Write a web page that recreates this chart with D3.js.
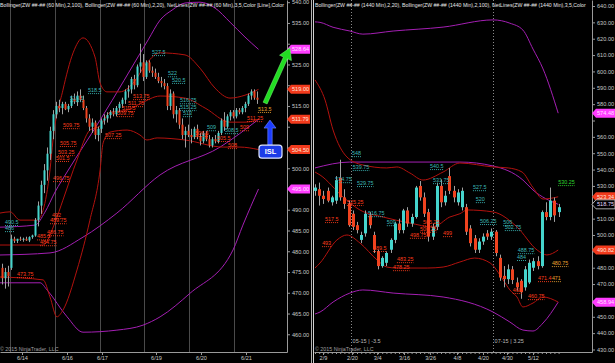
<!DOCTYPE html>
<html><head><meta charset="utf-8">
<script src="https://cdn.jsdelivr.net/npm/d3@7"></script>
<style>
html,body{margin:0;padding:0;background:#000;}
svg{display:block;font-family:"Liberation Sans",Arial,sans-serif;}
</style></head><body>
<svg id="c" width="615" height="363"></svg>
<script>
// ================= LEFT PANEL (60 Min) =================
const leftOpen  = [476,473.5,475,476,483,482.5,483,482.8,483,482.6,483.4,483.8,487.5,491,496,499.5,503.5,509,513,515,514.5,515.5,514.2,515,516.8,516,517.5,516.5,514.5,512,510,511,508,509.5,511.5,512,512.8,513.5,513,514.5,515.5,516.5,518.5,519,521.5,520,524.5,525.5,522,525.5,523.5,523,522,521,520.5,519.8,515,518,513,514,510.5,508,509,508,507.5,509.5,507.5,506.5,508.5,507,505.5,507,506.5,508.5,511.5,510,512.5,513.5,512.5,514,513.5,514.5,515.5,517.5,518.5,517];
const leftHigh  = [477,476,476.5,484,483.5,483,483.5,483.3,483.5,483.6,484,488,492,497,501,505,510,514,516,516.5,516,516,515.5,517.5,518,518.5,519,517.5,515,513,512,511.5,510,512,513,513.5,514,514.5,515,516,517,519,520,522,522.5,525,530,527.5,526,526,524.5,524,523,522,521.5,520.5,519,518.5,515,514.5,512,510,510.5,509.5,510,510.5,508.5,509,509,508,507.5,508,509,512,513.5,513,514,514,514.5,514.5,515,516,518,519,519,518.5];
const leftLow   = [472,471,471.5,475.5,482,482,482.5,482.3,482.5,482.2,483,483.5,486,489,494,497,502,507,512,513.5,513,514,513.5,514.5,515.5,515,516,514,511,509,508.5,507,506.5,508.5,510.5,511,512,512.5,512.5,513.5,514.5,515.5,517,518,519,519.5,523,521,521.5,523,522,521.5,520.5,519.5,519,514,514,512,511,509.5,507,505,507.5,506,507,507,505.5,506,506.5,505,505,506,506,508,509,509.5,511.5,512,512,513,513,513.5,515,516.5,516.5,515.5];
const leftClose = [473.5,475,474,483,482.5,483,482.8,483,482.6,483.4,483.8,487.5,491,496,499.5,503.5,509,513,515,514.5,515.5,514.2,515,516.8,516,517.5,516.5,514.5,512,510,511,508,509.5,511.5,512,512.8,513.5,513,514.5,515.5,516.5,518.5,519,521.5,520,524.5,525.5,522,525.5,523.5,523,522,521,520.5,519.8,515,518,513,514,510.5,508,509,508,507.5,509.5,507.5,506.5,508.5,507,505.5,507,506.5,508.5,511.5,510,512.5,513.5,512.5,514,513.5,514.5,515.5,517.5,518.5,517,516.5];

// Bollinger (2,100) - purple
const leftBB100UpIdx  = [-0.67,11,14.3,17.7,21.7,32.7,48.7,52.7,56.7,61,66,71,76,81,85.5];
const leftBB100Up     = [485.8,486.3,489.4,494.3,499.1,511.6,530.9,535.7,538.1,539.8,540,538.6,535.2,531.6,528.64];
const leftBB100MidIdx = [-0.67,16,27,38.3,52.7,72.7,85.5];
const leftBB100Mid    = [479.1,479.6,483.4,489.2,498.4,505.1,511.79];
const leftBB100LoIdx  = [-0.67,12.7,15,21.7,27,38.3,47,52.7,62.7,77,80.3,85.5];
const leftBB100Lo     = [472.4,472.4,470.7,464.2,460.5,461.0,462.2,464.2,469.9,480.3,486.3,495.0];
// Bollinger (2,20) - red
const leftBB20UpIdx  = [-0.67,2.7,6,11.7,13.7,16,17,20.3,23.7,27,31,32.7,35,39.3,43.7,48.3,52.7,61,66,71,76,81,85.5];
const leftBB20Up     = [489.2,489.5,487.5,487.5,489.9,499.6,506.8,518.8,527.8,531.4,526.8,520.5,518.4,518.4,520.5,525.4,527.8,527.3,524.1,519.3,516.9,517.6,519.0];
const leftBB20MidIdx = [-0.67,13.7,17.7,20.3,25,29.3,32.7,36,41.7,46,52.7,61,67.7,76,81,85.5];
const leftBB20Mid    = [481.5,481.5,487.0,492.3,502.0,509.2,510.2,513.5,514.0,515.5,517.4,516.9,514.5,511.1,511.1,511.79];
const leftBB20LoIdx  = [-0.67,13.7,16,18.3,20.3,25,29.3,32.7,33.7,36,41.7,46,48.3,51.7,61,73.7,79.3,85.5];
const leftBB20Lo     = [473.8,473.1,469.0,464.2,465.8,475.5,487.5,499.6,506.1,508.7,509.2,508.0,506.8,507.3,506.8,505.1,505.1,504.5];

// NetLines labels [text, bar, price, kind]
const leftLabels = [
 ["516.5",22.7,516.9,"hi"],["518.5",28.7,518.85,"hi"],["527.5",50,528.0,"hi"],["522",55.3,522.9,"hi"],
 ["520.5",56.7,521.3,"hi"],["516.75",59.3,516.4,"hi"],["515.25",59.3,514.75,"hi"],["513",60.3,513.3,"hi"],
 ["509",68.3,509.9,"hi"],["508.5",74.3,509.2,"hi"],["490.5",1,487.05,"hi"],["486",1,485.6,"hi"],
 ["509.75",20.3,510.4,"lo"],["505.75",19.3,506.1,"lo"],["503.25",18.7,503.9,"lo"],["501.5",18,502.5,"lo"],
 ["496.75",17,497.65,"lo"],["507.25",34.3,508.0,"lo"],["513.75",43.7,517.4,"lo"],["511.75",42,515.7,"lo"],
 ["510.5",40,514.5,"lo"],["509.75",38.3,513.3,"lo"],["506.5",64.3,508.5,"lo"],["505.5",71.7,507.3,"lo"],
 ["509",79.3,509.9,"lo"],["508",75.3,505.6,"lo"],["511.25",81.7,512.1,"lo"],["492",16.7,488.7,"lo"],
 ["489.75",16,487.5,"lo"],["486.75",15,484.6,"lo"],["485.5",11.7,483.6,"lo"],["484.75",12.7,482.2,"lo"],
 ["473.75",5,474.5,"lo"],["513.5",85.3,514.3,"cur"]
];
const leftDaySep   = [2.67,17.67,32.67,47.33,62.33,77.33];
const leftDateIdx  = [6.67,21.67,33.33,51.33,66.33,81.33];
const leftDateLbl  = ["6/14","6/16","6/17","6/19","6/20","6/21"];
const leftPriceTicks = [460,465,470,475,480,485,490,495,500,505,510,515,520,525,530,535,540];
const leftMarkVals  = [528.64,519.00,511.79,504.50,495.00];
const leftMarkKinds = ["pink","red","red","red","pink"];

// ================= RIGHT PANEL (1440 Min) =================
const rightOpen  = [527,528,524,527,520,521,535,523,519,513,506,497,501,512,500,490,481,483,491,497,507,503,515,507,511,530,523,514,499,505,530,520,536,527,520,517,517,504,498,491,496,501,499,502,486,475,473,479,471,472,468,471,480,484,481,514,511,521,514];
const rightHigh  = [531,532,527,529,524,536,546,528,521,515,508,502,515,514,502,491,487,490,498,508,510,516,517,513,530,533,526,516,507,532,534,527,541,530,528,529,519,506,500,498,501,503,504,503,488,481,482,481,474,473,481,485,486,487,515,520,529,523,519];
const rightLow   = [524,518,519,520,518,519,521,516,505,503,501,495,499,504,489,479,480,481,489,495,501,501,505,505,510,521,511,496,497,503,517,518,525,520,518,515,500,493,489,489,494,497,497,487,472,468,470,470,466,461,466,470,478,479,480,509,509,508,511];
const rightClose = [529,524,522,521,523,533.5,523,519,506,505,503,500,513,506,491,481,486,489,497,507,503,515,507,511,529,523,513,499,505,530,520,524,527,523,526,527,502,495,491,496,499,499,502,489,474,473,479,472.5,468,465,479,483,484,481,514,511,521,512,517];

const rightBB20UpIdx  = [0,2.4,4.3,7.6,11.4,17.1,19.5,22.6,25.7,30.5,34.5,42.4,46,49.3,51.9,54.3,57.9];
const rightBB20Up     = [594.8,582.5,564.2,547.7,542.8,541.0,541.6,537.9,533.6,538.5,544.0,541.6,541.0,538.5,529.0,522.0,523.34];
const rightBB20MidIdx = [0,1.2,6.7,10.7,16.2,22.6,28.1,32.1,34.5,36.2,42.4,48.1,52.9,55.2,57.9];
const rightBB20Mid    = [538.5,536.7,523.2,515.3,511.0,507.3,504.9,511.0,513.0,515.3,514.1,504.9,490.8,487.8,490.82];
const rightBB20LoIdx  = [0,1.2,5.2,7.6,10.7,14.8,17.1,19.5,26.7,30.5,34.5,38,41.7,44.8,46.4,48.1,49.5,51.9,54.3,57.9];
const rightBB20Lo     = [479.8,482.9,496.9,500.0,495.1,484.7,480.4,479.8,479.8,480.4,483.5,485.9,482.9,472.5,466.4,462.1,456.0,458.4,462.1,459.0];
const rightBB100UpIdx  = [0,1.2,4.3,8.3,11.4,18.6,30.5,42.4,46.4,49.5,51.9,54.3,57.9];
const rightBB100Up     = [630.3,630.0,627.0,624.7,622.8,624.7,627.1,631.5,629.5,625.3,613.7,601.5,574.48];
const rightBB100MidIdx = [0,8.3,20,34.5,42.4,49.5,51.9,57.9];
const rightBB100Mid    = [541.0,544.6,544.6,544.6,542.2,533.6,527.5,518.75];
const rightBB100LoIdx  = [0,1.2,4.3,8.3,11.4,18.6,30.5,42.4,46.4,49.5,51.9,54.3,57.9];
const rightBB100Lo     = [451.7,452.9,459.0,464.5,466.4,464.5,462.1,452.9,446.8,441.9,441.3,446.2,458.94];

const rightLabels = [
 ["548",8.8,550.1,"hi"],["539.75",9,541.6,"hi"],["529.75",10,531.8,"hi"],["534.75",4.8,534.2,"hi"],
 ["540.5",27.4,542.2,"hi"],["531.75",28.1,533.6,"hi"],["527.5",37.6,529.3,"hi"],["520",38.3,522.0,"hi"],
 ["516.75",12.6,513.4,"hi"],["509",17.1,507.9,"hi"],["506.25",39.3,508.6,"hi"],["506",44.8,507.9,"hi"],
 ["502.75",45.2,504.9,"hi"],["488.75",48.3,490.8,"hi"],["484",48.1,486.6,"hi"],
 ["525.25",7.6,520.2,"lo"],["517.5",2.4,509.8,"lo"],["493",1.7,495.1,"lo"],["489.5",13.8,492.1,"lo"],
 ["483.25",19.5,485.3,"lo"],["478.25",18.6,480.4,"lo"],["505.25",25.7,507.7,"lo"],["500.25",25,503.9,"lo"],
 ["498.75",22.6,500.2,"lo"],["499",30.5,501.2,"lo"],["468",47.1,466.4,"lo"],["460.75",50.7,462.7,"lo"],
 ["471.4",53.1,473.7,"lo"],["480.75",56.4,482.9,"cur"],["471",56.4,473.7,"cur"],["530.25",57.9,532.4,"up"]
];
const rightDateIdx = [1.9,8.8,14.8,21.2,27.4,33.8,40,45.7,51.9];
const rightDateLbl = ["2/9","2/20","3/4","3/16","3/26","4/8","4/20","4/30","5/12"];
const rollIdx  = [8.6,42.4];
const rollText = ["05-15 | -3.5","07-15 | 3.25"];
const rightPriceTicks = [430,440,450,460,470,480,490,500,510,520,530,540,550,560,570,580,590,600,610,620,630,640];
const rightMarkVals  = [574.48,523.34,518.75,490.82,458.94];
const rightMarkKinds = ["pink","red","dark","red","pink"];

// annotations (bar index, price) on the left panel
const greenArrowFrom = [87.7,515.7], greenArrowTo = [96,529.0];
const blueArrowFrom  = [89.33,505.6], blueArrowTo  = [89.33,511.6];
const islBox = [89.5,504.0];

const headerLeft  = "Bollinger(ZW ##-## (60 Min),2,100), Bollinger(ZW ##-## (60 Min),2,20), NetLines(ZW ##-## (60 Min),3,5,Color [Line],Color";
const headerRight = "Bollinger(ZW ##-## (1440 Min),2,20), Bollinger(ZW ##-## (1440 Min),2,100), NetLines(ZW ##-## (1440 Min),3,5,Color";

// ================= DRAW =================
const svg = d3.select('#c');
svg.append('rect').attr('width',615).attr('height',363).attr('fill','#000');

const xL = d3.scaleLinear().domain([-0.667,95]).range([0,287]);
const yL = d3.scaleLinear().domain([455.73,540.53]).range([352,0]);
const xR = d3.scaleLinear().domain([-0.238,65.95]).range([314,592]);
const yR = d3.scaleLinear().domain([428.47,643.67]).range([352,0]);

const defs = svg.append('defs');
defs.append('clipPath').attr('id','clipL').append('rect').attr('x',0).attr('y',0).attr('width',287).attr('height',352);
defs.append('clipPath').attr('id','clipR').append('rect').attr('x',314).attr('y',0).attr('width',278).attr('height',352);

const COL = {up:'#45d4cc', down:'#f0431f', wick:'#a0a0a0', red:'#b3120e', purple:'#a41fb3',
  hi:'#3cb8b8', lo:'#ff3d1c', cur:'#e8a030', upl:'#2ed82e'};

const gL = svg.append('g').attr('clip-path','url(#clipL)');
const gR = svg.append('g').attr('clip-path','url(#clipR)');

gL.selectAll('line.sep').data(leftDaySep).join('line')
  .attr('x1',d=>Math.round(xL(d))+0.5).attr('x2',d=>Math.round(xL(d))+0.5)
  .attr('y1',0).attr('y2',352).attr('stroke','#4a4a4a').attr('stroke-width',1);

gR.selectAll('line.roll').data(rollIdx).join('line')
  .attr('x1',d=>Math.round(xR(d))+0.5).attr('x2',d=>Math.round(xR(d))+0.5)
  .attr('y1',0).attr('y2',352).attr('stroke','#8a8a8a').attr('stroke-dasharray','1,2');

function band(g, idx, vals, x, y, color){
  const pts = idx.map((d,i)=>[d, vals[i]]);
  g.append('path').datum(pts)
    .attr('d', d3.line().x(d=>x(d[0])).y(d=>y(d[1])).curve(d3.curveMonotoneX))
    .attr('fill','none').attr('stroke',color).attr('stroke-width',1);
}
band(gL,leftBB100UpIdx,leftBB100Up,xL,yL,COL.purple);
band(gL,leftBB100MidIdx,leftBB100Mid,xL,yL,COL.purple);
band(gL,leftBB100LoIdx,leftBB100Lo,xL,yL,COL.purple);
band(gL,leftBB20UpIdx,leftBB20Up,xL,yL,COL.red);
band(gL,leftBB20MidIdx,leftBB20Mid,xL,yL,COL.red);
band(gL,leftBB20LoIdx,leftBB20Lo,xL,yL,COL.red);
band(gR,rightBB100UpIdx,rightBB100Up,xR,yR,COL.purple);
band(gR,rightBB100MidIdx,rightBB100Mid,xR,yR,COL.purple);
band(gR,rightBB100LoIdx,rightBB100Lo,xR,yR,COL.purple);
band(gR,rightBB20UpIdx,rightBB20Up,xR,yR,COL.red);
band(gR,rightBB20MidIdx,rightBB20Mid,xR,yR,COL.red);
band(gR,rightBB20LoIdx,rightBB20Lo,xR,yR,COL.red);

function candles(g,O,H,Lo,C,x,y,bw){
  const data = O.map((o,i)=>({i,o,h:H[i],l:Lo[i],c:C[i]}));
  const cg = g.append('g');
  cg.selectAll('line').data(data).join('line')
    .attr('x1',d=>Math.round(x(d.i))+0.5).attr('x2',d=>Math.round(x(d.i))+0.5)
    .attr('y1',d=>y(d.h)).attr('y2',d=>y(d.l)).attr('stroke',COL.wick).attr('stroke-width',1);
  cg.selectAll('rect').data(data).join('rect')
    .attr('x',d=>Math.round(x(d.i))+0.5-bw/2)
    .attr('y',d=>y(Math.max(d.o,d.c)))
    .attr('width',bw)
    .attr('height',d=>Math.max(1,Math.abs(y(d.o)-y(d.c))))
    .attr('fill',d=>d.c>=d.o?COL.up:COL.down);
}
candles(gL,leftOpen,leftHigh,leftLow,leftClose,xL,yL,2);
candles(gR,rightOpen,rightHigh,rightLow,rightClose,xR,yR,3);

function netLabels(g,list,x,y){
  list.forEach(([t,idx,p,k])=>{
    const col = k==='hi'?COL.hi:k==='lo'?COL.lo:k==='cur'?COL.cur:COL.upl;
    const tx = g.append('text').attr('x',x(idx)).attr('y',y(p)).attr('dy','0.35em')
      .attr('font-size',5.4).attr('fill',col).text(t);
    const w = tx.node().getComputedTextLength();
    g.append('line').attr('x1',x(idx)).attr('x2',x(idx)+w)
      .attr('y1',y(p)+3.6).attr('y2',y(p)+3.6)
      .attr('stroke',col).attr('stroke-width',0.9).attr('stroke-dasharray','1,1');
  });
}
netLabels(gL,leftLabels,xL,yL);
netLabels(gR,rightLabels,xR,yR);

gR.selectAll('text.roll').data(rollIdx).join('text')
  .attr('x',d=>xR(d)+1.5).attr('y',343).attr('font-size',5.5).attr('fill','#b8b8b8')
  .text((d,i)=>rollText[i]);

function styleAxis(g){
  g.attr('font-size',5.6).attr('font-family','"Liberation Sans",Arial,sans-serif');
  g.selectAll('path,line').attr('stroke','#9a9a9a');
  g.selectAll('text').attr('fill','#c8c8c8');
}
function hideCovered(g, y, marks){
  g.selectAll('.tick').each(function(d){
    if (marks.some(m=>Math.abs(y(m)-y(d))<7.5)) d3.select(this).select('text').remove();
  });
}
const axL = svg.append('g').attr('transform','translate(287,0)')
  .call(d3.axisRight(yL).tickValues(leftPriceTicks).tickFormat(d3.format('.2f')).tickSize(3).tickSizeOuter(0).tickPadding(2));
styleAxis(axL); hideCovered(axL,yL,leftMarkVals);
const axR = svg.append('g').attr('transform','translate(592,0)')
  .call(d3.axisRight(yR).tickValues(rightPriceTicks).tickFormat(d3.format('.2f')).tickSize(3).tickSizeOuter(0).tickPadding(2));
styleAxis(axR); hideCovered(axR,yR,rightMarkVals);
styleAxis(svg.append('g').attr('transform','translate(0,352)')
  .call(d3.axisBottom(xL).tickValues(leftDateIdx).tickFormat((d,i)=>leftDateLbl[i]).tickSize(3).tickSizeOuter(0).tickPadding(1)));
styleAxis(svg.append('g').attr('transform','translate(0,352)')
  .call(d3.axisBottom(xR).tickValues(d3.range(0,rightClose.length)).tickFormat('').tickSize(2).tickSizeOuter(0)));
const rda = svg.append('g').attr('transform','translate(0,352)')
  .call(d3.axisBottom(xR).tickValues(rightDateIdx).tickFormat((d,i)=>rightDateLbl[i]).tickSize(3).tickSizeOuter(0).tickPadding(1));
styleAxis(rda); rda.select('.domain').remove();

svg.append('line').attr('x1',311.5).attr('x2',311.5).attr('y1',0).attr('y2',363).attr('stroke','#b0b0b0');
svg.append('line').attr('x1',313.5).attr('x2',313.5).attr('y1',0).attr('y2',363).attr('stroke','#d0d0d0');

function markers(vals,kinds,y,x0){
  vals.forEach((v,i)=>{
    const yy=y(v), k=kinds[i];
    const fill = k==='pink'?'#ff3cff':k==='red'?'#f23a1c':'#000';
    const stroke = k==='dark'?'#d0d0d0':'none';
    const tcol = k==='pink'?'#ffe0ff':k==='red'?'#ffe4dc':'#e8d8ff';
    svg.append('path').attr('d',`M${x0},${yy}L${x0+4},${yy-4.5}L${x0+23},${yy-4.5}L${x0+23},${yy+4.5}L${x0+4},${yy+4.5}Z`)
      .attr('fill',fill).attr('stroke',stroke).attr('stroke-width',0.8);
    svg.append('text').attr('x',x0+5).attr('y',yy).attr('dy','0.35em').attr('font-size',5.6)
      .attr('fill',tcol).text(d3.format('.2f')(v));
  });
}
markers(leftMarkVals,leftMarkKinds,yL,287);
markers(rightMarkVals,rightMarkKinds,yR,592);

function arrowPath(x1,y1,x2,y2,sw,hw,hl){
  const dx=x2-x1, dy=y2-y1, L=Math.hypot(dx,dy), ux=dx/L, uy=dy/L, nx=-uy, ny=ux;
  const bx=x2-ux*hl, by=y2-uy*hl;
  const p=[[x1+nx*sw,y1+ny*sw],[bx+nx*sw,by+ny*sw],[bx+nx*hw,by+ny*hw],[x2,y2],[bx-nx*hw,by-ny*hw],[bx-nx*sw,by-ny*sw],[x1-nx*sw,y1-ny*sw]];
  return 'M'+p.map(q=>q.join(',')).join('L')+'Z';
}
svg.append('path').attr('d',arrowPath(xL(greenArrowFrom[0]),yL(greenArrowFrom[1]),xL(greenArrowTo[0]),yL(greenArrowTo[1]),2.2,6.5,11))
  .attr('fill','#22dd22').attr('stroke','#7dff7d').attr('stroke-width',0.5);
svg.append('path').attr('d',arrowPath(xL(blueArrowFrom[0]),yL(blueArrowFrom[1]),xL(blueArrowTo[0]),yL(blueArrowTo[1]),2.2,6,8))
  .attr('fill','#1c3cff').attr('stroke','#6f8cff').attr('stroke-width',0.6);
const ix=xL(islBox[0]), iy=yL(islBox[1]);
svg.append('rect').attr('x',ix-11.5).attr('y',iy-6.5).attr('width',23).attr('height',13).attr('rx',3)
  .attr('fill','#1c3ce8').attr('stroke','#dfe6ff').attr('stroke-width',1.2);
svg.append('text').attr('x',ix).attr('y',iy).attr('dy','0.36em').attr('text-anchor','middle')
  .attr('font-size',7.5).attr('font-weight','bold').attr('fill','#fff').text('ISL');

function header(x, txt, width){
  const t = svg.append('text').attr('x',x).attr('y',6.6).attr('font-size',5.6).attr('fill','#e6e6e6').text(txt);
  const w = t.node().getComputedTextLength();
  t.attr('font-size', 5.6*width/w);
}
header(0, headerLeft, 284);
header(315, headerRight, 271);
svg.append('text').attr('x',0).attr('y',351).attr('font-size',5.3).attr('fill','#a0a0a0').text('© 2015 NinjaTrader, LLC');
svg.append('text').attr('x',315).attr('y',351).attr('font-size',5.3).attr('fill','#a0a0a0').text('© 2015 NinjaTrader, LLC');
</script>
</body></html>
